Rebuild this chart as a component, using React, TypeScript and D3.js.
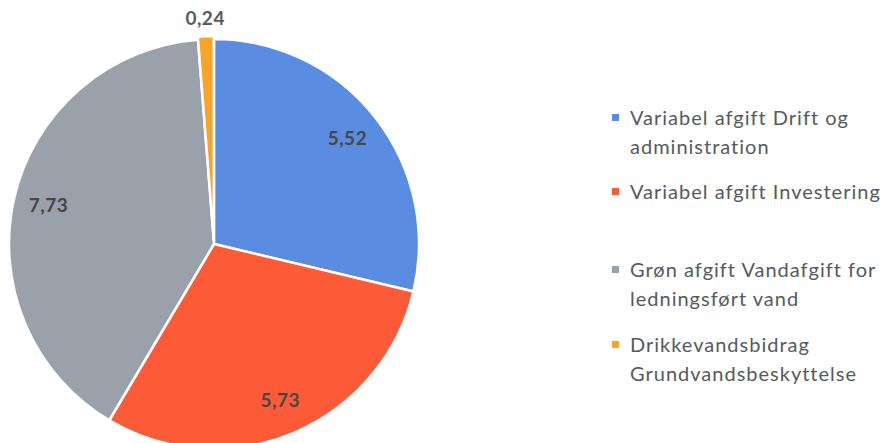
import React from 'react'
import * as d3 from 'd3'

const categories = [
  'Variabel afgift Drift og administration',
  'Variabel afgift Investering',
  'Grøn afgift Vandafgift for ledningsført vand',
  'Drikkevandsbidrag Grundvandsbeskyttelse',
]
const values = [5.52, 5.73, 7.73, 0.24]
const valueLabels = ['5,52', '5,73', '7,73', '0,24']
const legendLines = [
  ['Variabel afgift Drift og', 'administration'],
  ['Variabel afgift Investering'],
  ['Grøn afgift Vandafgift for', 'ledningsført vand'],
  ['Drikkevandsbidrag', 'Grundvandsbeskyttelse'],
]
const colors = ['#5a8de2', '#fd5a38', '#9ba1aa', '#f7a428']

export default function App() {
  const width = 888
  const height = 443
  const cx = 214
  const cy = 244
  const r = 205

  const pie = d3.pie<number>().sort(null).value(d => d)
  const arcs = pie(values)
  const arc = d3.arc<d3.PieArcDatum<number>>().innerRadius(0).outerRadius(r)
  const labelArc = d3.arc<d3.PieArcDatum<number>>().innerRadius(170).outerRadius(170)
  const outerLabelArc = d3.arc<d3.PieArcDatum<number>>().innerRadius(226).outerRadius(226)

  // small slice sticks out a bit
  const offset = (a: d3.PieArcDatum<number>, i: number) => {
    if (i !== 3) return [0, 0]
    const mid = (a.startAngle + a.endAngle) / 2
    return [Math.sin(mid) * 3, -Math.cos(mid) * 3]
  }

  const legendY = [125, 199, 277, 352]
  const lineGap = 29

  return (
    <svg width={width} height={height} style={{ position: 'absolute', left: 0, top: 0, background: '#fff' }}>
      <g transform={`translate(${cx},${cy})`}>
        {arcs.map((a, i) => {
          const [dx, dy] = offset(a, i)
          return (
            <path
              key={categories[i]}
              d={arc(a) || ''}
              transform={`translate(${dx},${dy})`}
              fill={colors[i]}
              stroke="#fff"
              strokeWidth={2.5}
            />
          )
        })}
        {arcs.map((a, i) => {
          const [x, y] = i === 3 ? outerLabelArc.centroid(a) : labelArc.centroid(a)
          return (
            <text
              key={'l' + i}
              x={x}
              y={y}
              dy="0.35em"
              textAnchor="middle"
              fontFamily="Lato, 'Open Sans', sans-serif"
              fontWeight="bold"
              fontSize={19}
              letterSpacing={0.5}
              fill={i === 3 ? '#5a5a5a' : '#474747'}
            >
              {valueLabels[i]}
            </text>
          )
        })}
      </g>
      <g fontFamily="Lato, 'Open Sans', sans-serif" fontSize={20} letterSpacing={1} fill="#555a60">
        {legendLines.map((lines, i) => (
          <g key={'lg' + i}>
            <rect x={612} y={legendY[i] - 11} width={7} height={7} fill={colors[i]} />
            {lines.map((t, j) => (
              <text key={j} x={630} y={legendY[i] + j * lineGap}>
                {t}
              </text>
            ))}
          </g>
        ))}
      </g>
    </svg>
  )
}
